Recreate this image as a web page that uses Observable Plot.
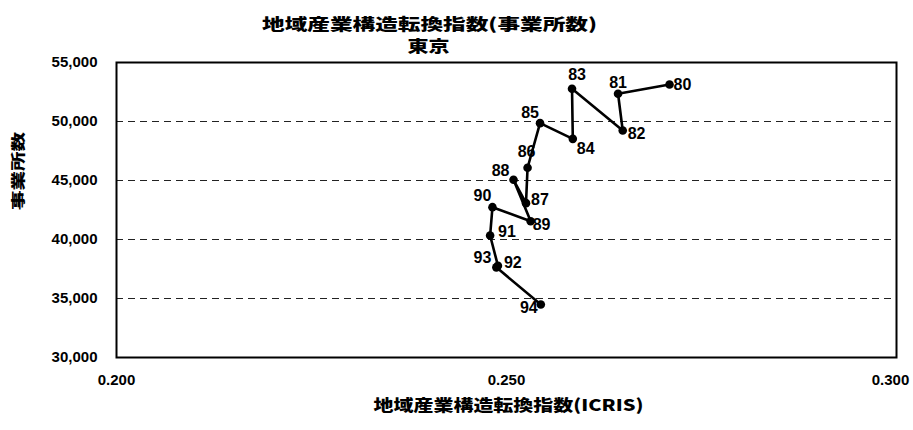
<!DOCTYPE html>
<html>
<head>
<meta charset="utf-8">
<script src="https://cdn.jsdelivr.net/npm/d3@7"></script>
<script src="https://cdn.jsdelivr.net/npm/@observablehq/plot@0.6"></script>
<style>
  html, body { margin: 0; padding: 0; background: white; }
</style>
</head>
<body>
<div id="chart"></div>
<script>
const years = ["80","81","82","83","84","85","86","87","88","89","90","91","92","93","94"];
const icris = [0.2709, 0.2643, 0.2649, 0.2584, 0.2585, 0.2543, 0.2527, 0.2525, 0.2509, 0.2531, 0.2482, 0.2479, 0.2489, 0.2487, 0.2544];
const establishments = [53140, 52350, 49240, 52770, 48530, 49860, 46080, 43080, 45060, 41550, 42740, 40340, 37780, 37640, 34490];
const xTicksLeft = [0.2, 0.25];
const xTicksRight = [0.3];
const yTicks = [30000, 35000, 40000, 45000, 50000, 55000];
const gridTicks = [35000, 40000, 45000, 50000];

const title = "地域産業構造転換指数(事業所数)";
const subtitle = "東京";
const xTitle = "地域産業構造転換指数(ICRIS)";
const yTitle = "事業所数";

const data = years.map((yr, i) => ({year: yr, x: icris[i], y: establishments[i]}));

// label placement (style): [dx, dy, textAnchor]
const labelStyle = {
  "80": [4, 0, "start"],
  "81": [0, -11, "middle"],
  "82": [5, 3, "start"],
  "83": [5, -14, "middle"],
  "84": [4, 10, "start"],
  "85": [-10, -10, "middle"],
  "86": [-1, -16, "middle"],
  "87": [5, -3, "start"],
  "88": [-4, -9, "end"],
  "89": [2, 4, "start"],
  "90": [-10, -11, "middle"],
  "91": [8, -4, "start"],
  "92": [6, -3, "start"],
  "93": [-5, -9, "end"],
  "94": [-12, 3, "middle"]
};

const labelMarks = years.map(yr => {
  const [dx, dy, anchor] = labelStyle[yr];
  return Plot.text(data.filter(d => d.year === yr), {
    x: "x", y: "y", text: "year", dx, dy, textAnchor: anchor,
    fontSize: 16, fontWeight: "bold", fill: "black"
  });
});

const cjk = "'Noto Sans CJK JP', sans-serif";

const chart = Plot.plot({
  width: 913,
  height: 430,
  marginLeft: 116,
  marginRight: 17,
  marginTop: 62,
  marginBottom: 73,
  style: {fontFamily: "'Liberation Sans', Arial, sans-serif", fontWeight: "bold", fontSize: "15px", color: "black", background: "white"},
  x: {domain: [0.2, 0.3]},
  y: {domain: [30000, 55000]},
  marks: [
    Plot.gridY(gridTicks, {stroke: "#222", strokeOpacity: 1, strokeWidth: 1, strokeDasharray: "7,5"}),
    Plot.axisY(yTicks, {tickSize: 0, tickPadding: 19, tickFormat: d3.format(","), label: null, fontSize: 15, fontWeight: "bold"}),
    Plot.axisX(xTicksLeft, {tickSize: 0, tickPadding: 17, tickFormat: d3.format(".3f"), label: null, fontSize: 15, fontWeight: "bold"}),
    Plot.axisX(xTicksRight, {tickSize: 0, tickPadding: 17, tickFormat: d3.format(".3f"), label: null, fontSize: 15, fontWeight: "bold", dx: -6}),
    Plot.line(data, {x: "x", y: "y", stroke: "black", strokeWidth: 2.6}),
    Plot.dot(data, {x: "x", y: "y", r: 4.3, fill: "black", stroke: "none"}),
    ...labelMarks,
    Plot.frame({stroke: "black", strokeWidth: 2}),
    Plot.text([title], {text: d => d, frameAnchor: "top", dx: -77, dy: -44, fontSize: 16, fontWeight: 900, fontFamily: cjk, fill: "black"}),
    Plot.text([subtitle], {text: d => d, frameAnchor: "top", dx: -78, dy: -22, fontSize: 16, fontWeight: 900, fontFamily: cjk, fill: "black"}),
    Plot.text([xTitle], {text: d => d, frameAnchor: "bottom", dx: 2, dy: 53, fontSize: 16, fontWeight: 900, fontFamily: cjk, fill: "black"}),
    Plot.text([yTitle], {text: d => d, frameAnchor: "left", dx: -98, dy: 0, rotate: -90, fontSize: 14, fontWeight: 900, fontFamily: cjk, fill: "black"})
  ]
});

// stretch CJK titles horizontally like the original
const stretch = {};
stretch[title] = 335;
stretch[subtitle] = 42;
stretch[xTitle] = 270;
stretch[yTitle] = 78;
d3.select(chart).selectAll("text").each(function() {
  const t = this.textContent;
  if (stretch[t] !== undefined) {
    this.setAttribute("textLength", stretch[t]);
    this.setAttribute("lengthAdjust", "spacingAndGlyphs");
  }
});

document.getElementById("chart").appendChild(chart);
</script>
</body>
</html>
